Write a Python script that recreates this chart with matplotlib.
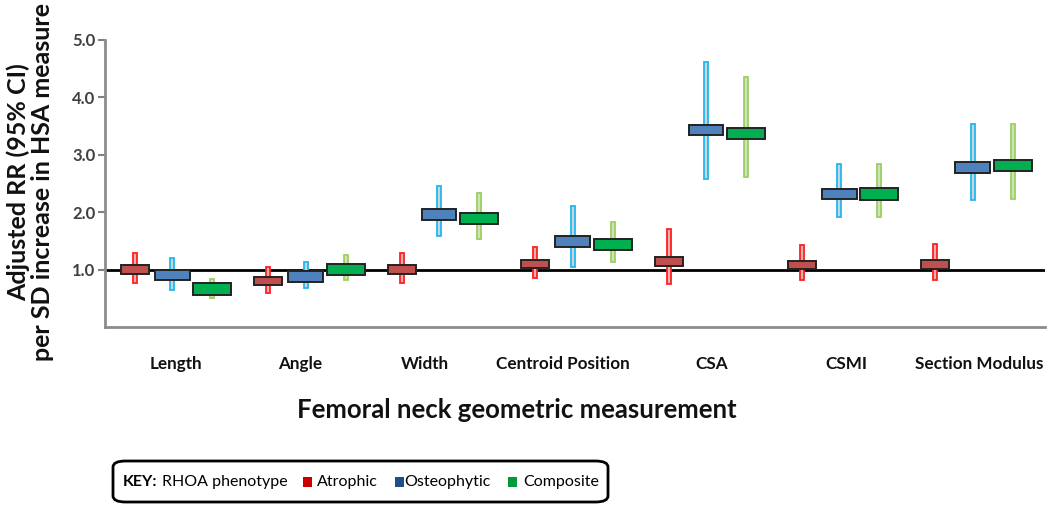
import numpy as np
import matplotlib
matplotlib.use("Agg")
import matplotlib.pyplot as plt
from matplotlib.patches import FancyBboxPatch, Rectangle

plt.rcParams['font.family'] = ['Lato', 'DejaVu Sans']

# data
measures = ["Length", "Angle", "Width", "Centroid Position", "CSA", "CSMI", "Section Modulus"]
series = ["Atrophic", "Osteophytic", "Composite"]

atrophic_rr = [1.00, 0.80, 1.00, 1.10, 1.14, 1.08, 1.09]
atrophic_lo = [0.77, 0.60, 0.77, 0.86, 0.75, 0.81, 0.81]
atrophic_hi = [1.28, 1.05, 1.28, 1.39, 1.70, 1.42, 1.44]

osteo_rr = [0.90, 0.88, 1.96, 1.49, 3.43, 2.32, 2.78]
osteo_lo = [0.65, 0.68, 1.58, 1.05, 2.58, 1.91, 2.21]
osteo_hi = [1.21, 1.14, 2.46, 2.10, 4.61, 2.84, 3.53]

comp_rr = [0.66, 1.00, 1.89, 1.44, 3.37, 2.32, 2.81]
comp_lo = [0.51, 0.81, 1.53, 1.14, 2.61, 1.91, 2.23]
comp_hi = [0.84, 1.25, 2.33, 1.82, 4.35, 2.84, 3.54]

yticks = [1.0, 2.0, 3.0, 4.0, 5.0]

# styling
offsets = [0.0, 0.28, 0.58]
box_w = [0.21, 0.26, 0.285]
box_h = [0.15, 0.18, 0.20]
box_col = ["#C0504D", "#4F81BD", "#00B050"]
ci_edge = ["#FF2020", "#20B8F0", "#9BD060"]
ci_fill = ["#E8B0AE", "#C8D6DC", "#D0E2B8"]
key_col = ["#CC0000", "#1F4E8C", "#009A3A"]
label_off = [0.31, 0.24, 0.17, 0.21, 0.32, 0.33, 0.33]

fig = plt.figure(figsize=(10.5, 5.05), dpi=100)
ax = fig.add_axes([0.1, 0.3525, 0.895, 0.5685])

x = np.arange(len(measures))
groups = [(atrophic_rr, atrophic_lo, atrophic_hi),
          (osteo_rr, osteo_lo, osteo_hi),
          (comp_rr, comp_lo, comp_hi)]

ax.axhline(1.0, color="black", lw=2, zorder=1)

for i, (rr, lo, hi) in enumerate(groups):
    rr = np.array(rr); lo = np.array(lo); hi = np.array(hi)
    xs = x + offsets[i]
    # confidence interval bars
    ax.bar(xs, hi - lo, bottom=lo, width=0.03, color=ci_fill[i],
           edgecolor=ci_edge[i], linewidth=1.3, zorder=2)
    # point estimate boxes
    ax.bar(xs, box_h[i], bottom=rr - box_h[i] / 2, width=box_w[i],
           color=box_col[i], edgecolor="#222222", linewidth=1.4, zorder=3)

ax.set_xlim(-0.225, 6.82)
ax.set_ylim(0, 5.0)

ax.set_yticks(yticks)
ax.set_yticklabels(["%.1f" % v for v in yticks], fontsize=12, fontweight="bold",
                   color="#404040")
ax.tick_params(axis="y", length=5, width=1.5, color="#808080", pad=2)

ax.set_xticks(x + np.array(label_off))
ax.set_xticklabels(measures, fontsize=12.3, fontweight="bold", color="#111111")
ax.tick_params(axis="x", length=0, pad=21)

for s in ["top", "right"]:
    ax.spines[s].set_visible(False)
for s in ["left", "bottom"]:
    ax.spines[s].set_color("#8C8C8C")
    ax.spines[s].set_linewidth(2)

fig.text(0.029, 0.64, "Adjusted RR (95% CI)\nper SD increase in HSA measure",
         rotation=90, ha="center", va="center", fontsize=18, fontweight="bold",
         color="#111111", linespacing=1.05)

fig.text(0.492, 0.188, "Femoral neck geometric measurement", ha="center", va="center",
         fontsize=18.5, fontweight="bold", color="#111111")

# key box
box = FancyBboxPatch((113 / 1050, 1 - 502 / 505), 495 / 1050, 41 / 505,
                     boxstyle="round,pad=0,rounding_size=0.012",
                     transform=fig.transFigure, facecolor="white",
                     edgecolor="black", linewidth=2)
fig.patches.append(box)
ky = 1 - 482 / 505
fig.text(123 / 1050, ky, "KEY:", fontsize=11.5, fontweight="bold", va="center")
fig.text(162 / 1050, ky, "RHOA phenotype", fontsize=11.5, va="center")
sq_x = [303, 395, 508]
tx_x = [317, 404, 523]
for i, name in enumerate(series):
    fig.patches.append(Rectangle((sq_x[i] / 1050, ky - 5 / 505), 9 / 1050, 10 / 505,
                                 transform=fig.transFigure, facecolor=key_col[i],
                                 edgecolor="none"))
    fig.text(tx_x[i] / 1050, ky, name, fontsize=11.5, va="center")

fig.savefig("out.png", dpi=100)
